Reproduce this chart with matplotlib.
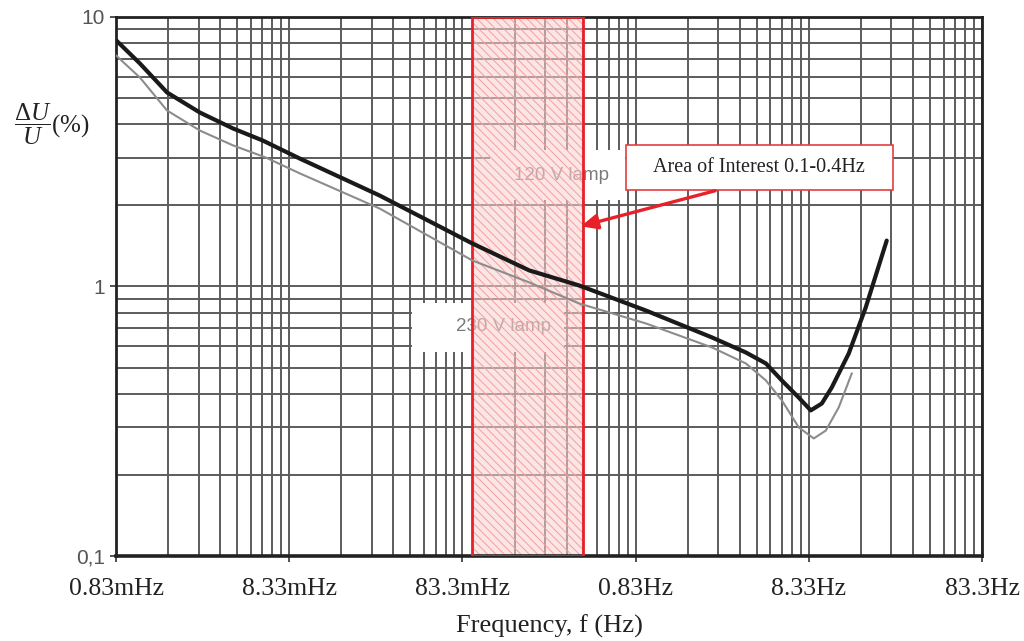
import matplotlib
matplotlib.use("Agg")
import matplotlib.pyplot as plt
from matplotlib.patches import Rectangle
from matplotlib.ticker import FixedLocator, NullFormatter

### Data ###

# 120 V lamp (thick black)
freq_120 = [0.000833, 0.001145, 0.00164, 0.00254, 0.00394, 0.00586, 0.00957, 0.0277,
            0.0951, 0.2027, 0.393, 0.957, 2.30, 3.61, 4.71, 5.82, 7.29, 8.55, 9.90,
            11.30, 14.16, 17.75, 23.46]
du_120 = [8.2, 6.72, 5.25, 4.42, 3.86, 3.48, 2.985, 2.176,
          1.444, 1.147, 1.009, 0.814, 0.647, 0.569, 0.518, 0.448, 0.387, 0.347, 0.368,
          0.422, 0.564, 0.836, 1.48]

# 230 V lamp (thin grey)
freq_230 = [0.000833, 0.001145, 0.00164, 0.00254, 0.00394, 0.0061, 0.00957, 0.0277,
            0.0951, 0.2027, 0.393, 0.957, 2.30, 3.61, 4.71, 5.82, 7.29, 8.90, 10.44,
            12.40, 14.74]
du_230 = [7.2, 5.96, 4.50, 3.79, 3.34, 3.01, 2.63, 1.947,
          1.249, 1.035, 0.865, 0.729, 0.594, 0.518, 0.448, 0.378, 0.300, 0.273, 0.292,
          0.356, 0.4755]

# area of interest band
band_lo, band_hi = 0.095, 0.415

# axes ticks
x_base = 0.000833
x_major = [x_base * 10 ** n for n in range(6)]
x_labels = ["0.83mHz", "8.33mHz", "83.3mHz", "0.83Hz", "8.33Hz", "83.3Hz"]
y_major = [0.1, 1, 10]
y_labels = ["0,1", "1", "10"]

### Plot ###
plt.rcParams['mathtext.fontset'] = 'custom'
plt.rcParams['mathtext.rm'] = 'Liberation Serif'
plt.rcParams['mathtext.it'] = 'Liberation Serif:italic'
plt.rcParams['hatch.linewidth'] = 0.7

fig = plt.figure(figsize=(10.24, 6.41), dpi=100)
ax = fig.add_axes([0.1133, 0.1326, 0.8457, 0.8409])
ax.set_xscale('log')
ax.set_yscale('log')
ax.set_xlim(x_major[0], x_major[-1])
ax.set_ylim(0.1, 10)
ax.set_axisbelow(True)

# grid at every k * base of each decade
x_minor = [k * x_base * 10 ** n for n in range(5) for k in range(2, 10)]
y_minor = [k * 10.0 ** n for n in (-1, 0) for k in range(2, 10)]
ax.xaxis.set_major_locator(FixedLocator(x_major))
ax.xaxis.set_minor_locator(FixedLocator(x_minor))
ax.yaxis.set_major_locator(FixedLocator(y_major))
ax.yaxis.set_minor_locator(FixedLocator(y_minor))
ax.xaxis.set_minor_formatter(NullFormatter())
ax.yaxis.set_minor_formatter(NullFormatter())
ax.set_xticklabels(x_labels, family='Liberation Serif', fontsize=18.5, color='#222222')
ax.set_yticklabels(y_labels, family='Liberation Sans', fontsize=15, color='#555555')
ax.grid(True, which='both', color='#5c5c5c', lw=1.4)
ax.tick_params(which='major', length=4, width=1.2, color='#333333')
ax.tick_params(axis='x', which='major', pad=12)
ax.tick_params(axis='y', which='major', pad=4)
ax.tick_params(which='minor', length=0)
for s in ax.spines.values():
    s.set_linewidth(2)
    s.set_color('#222222')
ax.spines['bottom'].set_linewidth(2.6)

# white label boxes (mask grid behind the curve names)
ax.add_patch(Rectangle((0.432, 0.660), 0.156, 0.093, transform=ax.transAxes,
                       facecolor='white', edgecolor='none', zorder=1))
ax.add_patch(Rectangle((0.342, 0.378), 0.175, 0.091, transform=ax.transAxes,
                       facecolor='white', edgecolor='none', zorder=1))
ax.text(0.514, 0.705, "120 V lamp", transform=ax.transAxes, ha='center', va='center',
        family='Liberation Sans', fontsize=13.5, color='#7a7a7a', zorder=1.5)
ax.text(0.448, 0.425, "230 V lamp", transform=ax.transAxes, ha='center', va='center',
        family='Liberation Sans', fontsize=13.5, color='#7a7a7a', zorder=1.5)

# area of interest band
ax.axvspan(band_lo, band_hi, facecolor='#fbd0d0', alpha=0.55, edgecolor='none', zorder=2)
ax.axvspan(band_lo, band_hi, facecolor='none', edgecolor='#f4a0a0', hatch='\\\\\\\\',
           lw=0, zorder=2)
ax.axvspan(band_lo, band_hi, fill=False, edgecolor='#e8202a', lw=2, zorder=3)

# curves
ax.plot(freq_230, du_230, color='#8c8c8c', lw=1.5, zorder=3, solid_joinstyle='round')
ax.plot(freq_120, du_120, color='#1a1a1a', lw=3, zorder=3.5, solid_joinstyle='round',
        solid_capstyle='round')

# callout
ax.add_patch(Rectangle((0.589, 0.679), 0.308, 0.0835, transform=ax.transAxes,
                       facecolor='white', edgecolor='#e04040', lw=1.2, zorder=4))
ax.text(0.7425, 0.721, "Area of Interest 0.1-0.4Hz", transform=ax.transAxes,
        ha='center', va='center', family='Liberation Serif', fontsize=14.5,
        color='#222222', zorder=5)
ax.annotate("", xy=(0.5335, 0.6104), xytext=(0.695, 0.679),
            xycoords='axes fraction', textcoords='axes fraction',
            arrowprops=dict(arrowstyle='-|>,head_width=0.45,head_length=1.0',
                            color='#e8202a', lw=2.4), zorder=5)

ax.set_xlabel("Frequency, f (Hz)", family='Liberation Serif', fontsize=19,
              color='#222222', labelpad=10)
fig.text(0.014, 1 - 124 / 641, r'$\dfrac{\Delta U}{U}$(%)', ha='left', va='center',
         fontsize=18, family='Liberation Serif', color='#222222')

fig.savefig("out.png", dpi=100)
